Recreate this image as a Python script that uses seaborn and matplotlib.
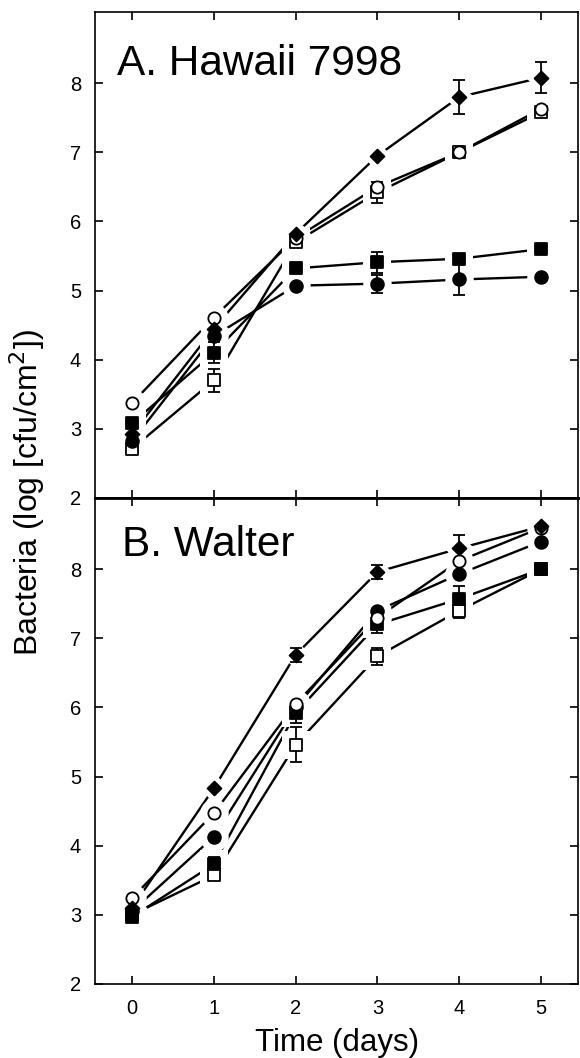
import numpy as np
import pandas as pd
import matplotlib
matplotlib.use('Agg')
import matplotlib.pyplot as plt
import seaborn as sns

# --- data ---
days = [0, 1, 2, 3, 4, 5]
series = ['filled diamond', 'open circle', 'filled circle', 'filled square', 'open square']

# Panel A: Hawaii 7998
a_diamond = [2.92, 4.45, 5.82, 6.95, 7.80, 8.08]
a_open_circle = [3.37, 4.61, 5.76, 6.50, 7.00, 7.63]
a_filled_circle = [2.82, 4.34, 5.07, 5.10, 5.16, 5.20]
a_filled_square = [3.08, 4.10, 5.32, 5.41, 5.46, 5.60]
a_open_square = [2.71, 3.70, 5.70, 6.42, 7.00, 7.58]

a_err_diamond = [0, 0, 0, 0, 0.24, 0.22]
a_err_open_circle = [0, 0, 0, 0, 0, 0]
a_err_filled_circle = [0, 0, 0, 0.13, 0.22, 0]
a_err_filled_square = [0, 0.15, 0, 0.15, 0, 0]
a_err_open_square = [0, 0.17, 0, 0.15, 0, 0]

# Panel B: Walter
b_diamond = [3.10, 4.83, 6.76, 7.96, 8.30, 8.62]
b_open_circle = [3.24, 4.47, 6.05, 7.30, 8.12, 8.60]
b_filled_circle = [3.05, 4.13, 6.00, 7.40, 7.93, 8.40]
b_filled_square = [2.97, 3.73, 5.92, 7.20, 7.57, 8.00]
b_open_square = [3.00, 3.57, 5.46, 6.74, 7.40, 8.00]

b_err_diamond = [0, 0, 0.10, 0.10, 0.19, 0]
b_err_open_circle = [0, 0, 0, 0, 0, 0]
b_err_filled_circle = [0, 0, 0, 0, 0, 0]
b_err_filled_square = [0, 0.10, 0.15, 0.12, 0.18, 0]
b_err_open_square = [0, 0, 0.25, 0.12, 0.10, 0]

panels = [
    ('A. Hawaii 7998', 0.045, 0.870,
     [a_diamond, a_open_circle, a_filled_circle, a_filled_square, a_open_square],
     [a_err_diamond, a_err_open_circle, a_err_filled_circle, a_err_filled_square, a_err_open_square]),
    ('B. Walter', 0.055, 0.881,
     [b_diamond, b_open_circle, b_filled_circle, b_filled_square, b_open_square],
     [b_err_diamond, b_err_open_circle, b_err_filled_circle, b_err_filled_square, b_err_open_square]),
]

# marker look per series: (marker, face colour, marker size, halo size)
marker_style = {
    'filled diamond': ('D', 'black', 50, 230),
    'open circle': ('o', 'white', 78, 420),
    'filled circle': ('o', 'black', 84, 420),
    'filled square': ('s', 'black', 80, 420),
    'open square': ('s', 'white', 76, 420),
}
draw_order = ['open square', 'filled square', 'filled circle', 'open circle', 'filled diamond']

# --- plotting ---
sns.set_style('ticks')
plt.rcParams['font.family'] = ['Liberation Sans', 'DejaVu Sans']
plt.rcParams['text.color'] = 'black'
plt.rcParams['axes.labelcolor'] = 'black'
plt.rcParams['xtick.color'] = 'black'
plt.rcParams['ytick.color'] = 'black'

fig, axes = plt.subplots(2, 1, figsize=(5.8, 10.58), dpi=100, sharex=True)
fig.subplots_adjust(left=0.164, right=0.9966, top=0.9887, bottom=0.070, hspace=0)

for ax, (title, tx, ty, values, errors) in zip(axes, panels):
    df = pd.DataFrame({
        'day': np.tile(days, len(series)),
        'value': np.concatenate(values),
        'err': np.concatenate(errors),
        'series': np.repeat(series, len(days)),
    })

    # connecting lines
    sns.lineplot(data=df, x='day', y='value', hue='series',
                 palette={s: 'black' for s in series}, estimator=None,
                 linewidth=1.7, legend=False, ax=ax, zorder=2)

    # white halos give the little gaps where lines meet the markers
    for s in draw_order:
        m, fc, size, halo = marker_style[s]
        sub = df[df['series'] == s]
        sns.scatterplot(data=sub, x='day', y='value', marker=m, color='white',
                        s=halo, linewidth=0, legend=False, ax=ax, zorder=3)

    # error bars
    for s in draw_order:
        sub = df[(df['series'] == s) & (df['err'] > 0)]
        if len(sub):
            ax.errorbar(sub['day'], sub['value'], yerr=sub['err'], fmt='none',
                        ecolor='black', elinewidth=1.3, capsize=4, capthick=1.3, zorder=4)

    # markers
    for s in draw_order:
        m, fc, size, halo = marker_style[s]
        sub = df[df['series'] == s]
        sns.scatterplot(data=sub, x='day', y='value', marker=m, color=fc,
                        edgecolor='black', linewidth=1.3, s=size,
                        legend=False, ax=ax, zorder=5)

    ax.set_xlim(-0.45, 5.45)
    ax.set_ylim(2, 9.03)
    ax.set_yticks([2, 3, 4, 5, 6, 7, 8])
    ax.set_xticks(days)
    ax.tick_params(direction='in', length=6, width=1.2, labelsize=14.5,
                   top=True, right=True)
    ax.tick_params(axis='y', pad=10)
    ax.tick_params(axis='x', pad=11)
    for sp in ax.spines.values():
        sp.set_linewidth(1.2)
        sp.set_color('black')
    ax.set_xlabel('')
    ax.set_ylabel('')
    ax.text(tx, ty, title, transform=ax.transAxes, fontsize=30.5,
            ha='left', va='baseline')

axes[0].spines['bottom'].set_linewidth(2.0)
axes[1].spines['top'].set_linewidth(2.0)
axes[0].tick_params(labelbottom=False)
axes[1].set_xlabel('Time (days)', fontsize=22.5, labelpad=7)
fig.text(0.047, 0.534, 'Bacteria (log [cfu/cm$^2$])', rotation=90,
         fontsize=23, ha='center', va='center')

plt.savefig('out.png', dpi=100)
